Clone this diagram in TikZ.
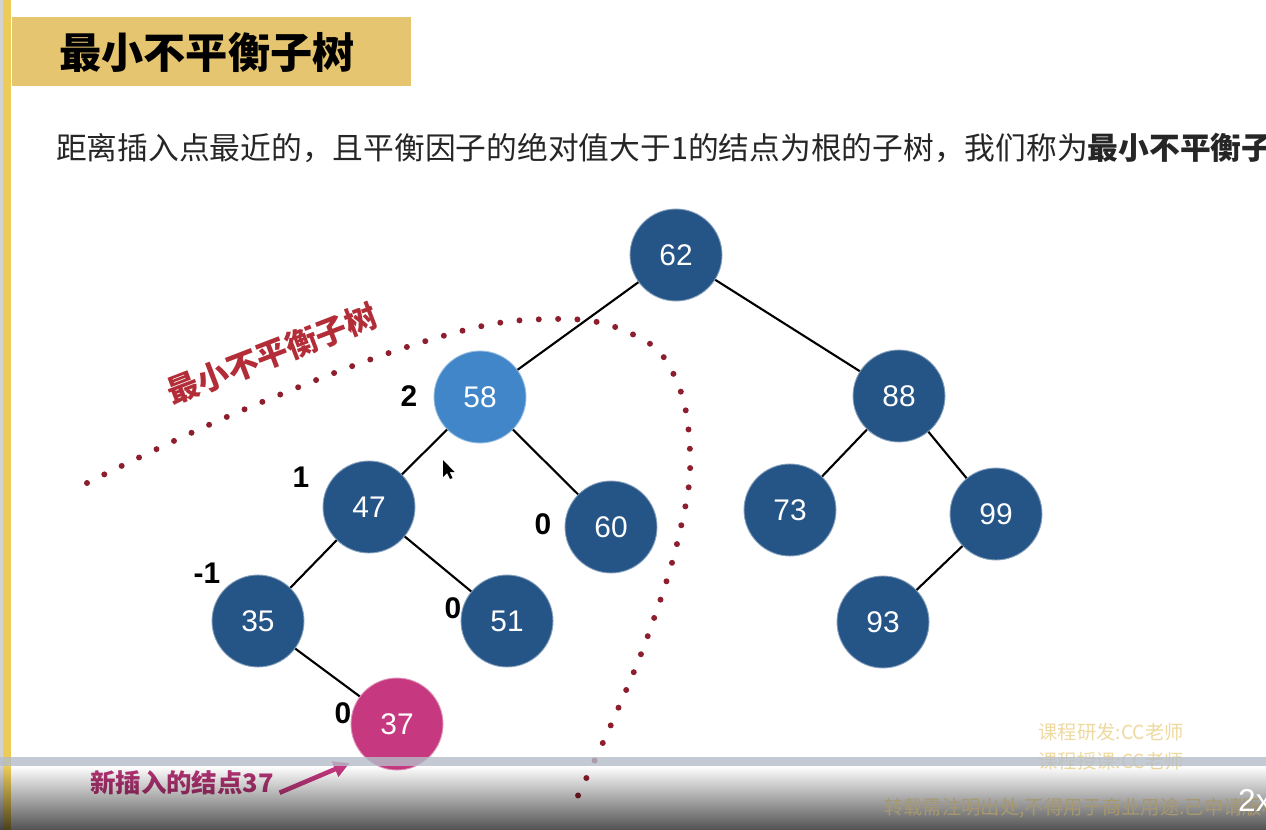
\documentclass[tikz,border=0pt]{standalone}
\usepackage{fontspec}
\setmainfont{Liberation Sans}
\newfontfamily\cjk{Noto Sans CJK SC}
\usetikzlibrary{arrows.meta}
\definecolor{treeblue}{RGB}{37,84,135}
\definecolor{hotblue}{RGB}{64,134,200}
\definecolor{newpink}{RGB}{198,56,128}
\definecolor{dotred}{RGB}{140,30,45}
\definecolor{tagred}{RGB}{178,45,55}
\definecolor{titlegold}{RGB}{229,197,112}
\definecolor{sidegold}{RGB}{236,203,88}
\definecolor{markgold}{RGB}{238,218,160}
\definecolor{barblue}{RGB}{180,189,200}
\begin{document}
\begin{tikzpicture}[x=0.02cm,y=-0.02cm,
  key/.style={circle,fill=treeblue,draw=treeblue!55!white,line width=0.5pt,minimum size=1.84cm,inner sep=0pt,text=white,font=\fontsize{17}{17}\selectfont},
  hot/.style={key,fill=hotblue,draw=hotblue!55!white},
  fresh/.style={key,fill=newpink,draw=newpink!55!white},
  bf/.style={font=\bfseries\fontsize{17}{17}\selectfont},
  link/.style={line width=1.2pt}]
\useasboundingbox (0,0) rectangle (1266,830);
\clip (0,0) rectangle (1266,830);
\fill[white] (0,0) rectangle (1266,830);
\fill[gray!35] (0,0) rectangle (3,830);
\fill[sidegold] (3,0) rectangle (11,830);
\fill[titlegold] (12,17) rectangle (411,86);
\node[font=\cjk\bfseries\fontsize{24}{24}\selectfont] (title) at (207,52) {最小不平衡子树};
\node[anchor=west,font=\cjk\fontsize{17.5}{17.5}\selectfont,text=black!85] (intro) at (50,148)
  {距离插入点最近的，且平衡因子的绝对值大于1的结点为根的子树，我们称为\textbf{最小不平衡子树}};

\draw[dotred,line width=3.4pt,line cap=round,dash pattern=on 0pt off 11pt]
  plot[smooth,tension=0.7] coordinates {(87,483) (250,407) (436,338) (553,319) (632,334) (674,375) (690,452) (680,531) (651,627) (614,718) (572,808)};
\node[text=tagred,rotate=21,font=\cjk\bfseries\fontsize{18}{18}\selectfont] (tag) at (272,354) {最小不平衡子树};

\node[key] (n62) at (676,255) {62};
\node[hot] (n58) at (480,397) {58};
\node[key] (n88) at (899,396) {88};
\node[key] (n47) at (369,507) {47};
\node[key] (n60) at (611,527) {60};
\node[key] (n73) at (790,510) {73};
\node[key] (n99) at (996,514) {99};
\node[key] (n35) at (258,621) {35};
\node[key] (n51) at (507,621) {51};
\node[key] (n93) at (883,622) {93};
\node[fresh] (n37) at (397,724) {37};
\foreach \a/\b in {62/58,62/88,58/47,58/60,47/35,47/51,35/37,88/73,88/99,99/93}
  \draw[link] (n\a) -- (n\b);

\node[bf] (b58) at (409,396) {2};
\node[bf] (b47) at (301,477) {1};
\node[bf] (b35) at (207,573) {-1};
\node[bf] (b60) at (543,524) {0};
\node[bf] (b51) at (453,608) {0};
\node[bf] (b37) at (343,713) {0};

\fill[black] (443,460) -- ++(0,17) -- ++(4,-4) -- ++(3,6) -- ++(2.5,-1) -- ++(-3,-6) -- ++(5,0) -- cycle;

\node[text=newpink!92!black,inner sep=0pt,font=\cjk\bfseries\fontsize{14.5}{14.5}\selectfont] (hint) at (182,783) {新插入的结点37};
\draw[newpink,line width=2.6pt,shorten >=9pt,-{Triangle[length=9pt,width=9pt]}] ([xshift=3pt]hint.base east) -- (n37.south west);

\node[anchor=east,text=markgold,font=\cjk\fontsize{11}{11}\selectfont] (mark1) at (1190,732) {课程研发:CC老师};
\node[anchor=east,text=markgold,font=\cjk\fontsize{11}{11}\selectfont] (mark2) at (1190,761) {课程授课:CC老师};

\shade[top color=white,bottom color=black!68,blend mode=multiply] (0,766) rectangle (1266,830);
\fill[barblue,opacity=0.8] (0,757) rectangle (1266,766);
\node[anchor=west,text=markgold!70!black,font=\cjk\fontsize{11}{11}\selectfont] (mark3) at (878,808) {转载需注明出处,不得用于商业用途.已申请版权};
\node[anchor=west,text=white,font=\fontsize{18}{18}\selectfont] (speed) at (1232,800) {2x};
\end{tikzpicture}
\end{document}
